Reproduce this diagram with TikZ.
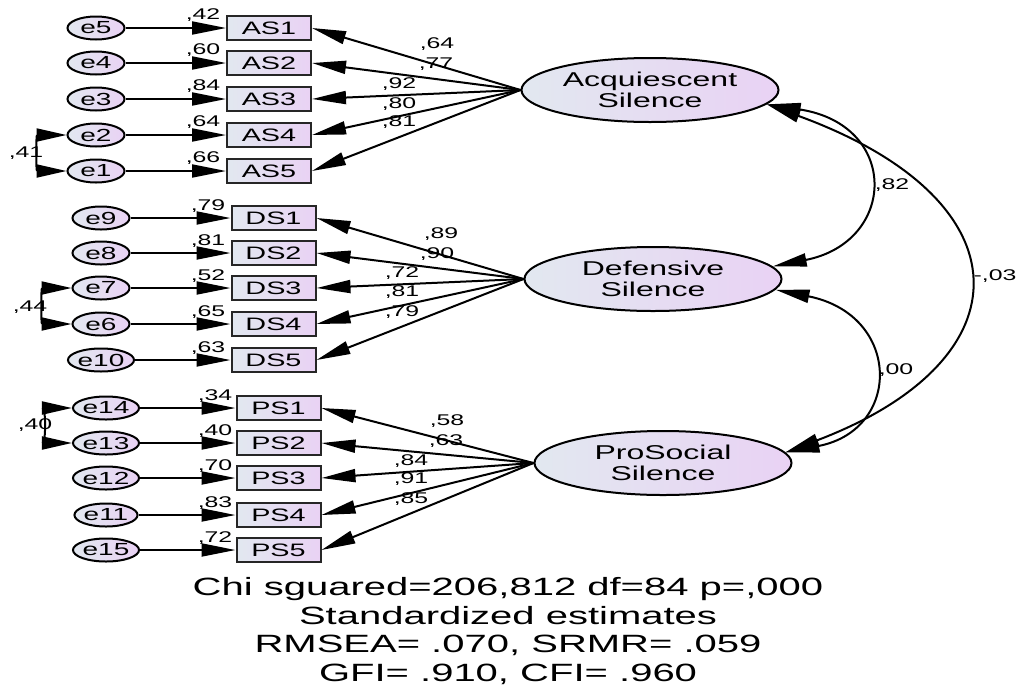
\documentclass[tikz,border=0pt]{standalone}
\usepackage{fontspec}
\setmainfont[FakeStretch=1.6]{Liberation Sans}
\usetikzlibrary{arrows.meta,shapes.geometric}
\definecolor{fillL}{RGB}{226,232,240}
\definecolor{fillR}{RGB}{233,210,244}
\begin{document}
\begin{tikzpicture}[x=1pt,y=-1pt,
  >={Triangle[length=34pt,width=13pt]},
  errnode/.style={ellipse,draw=black,line width=2pt,left color=fillL,right color=fillR,minimum width=57pt,minimum height=23pt,inner sep=0pt,font=\fontsize{17.5}{17.5}\selectfont},
  obsnode/.style={rectangle,draw=black!85,line width=2pt,left color=fillL,right color=fillR,minimum width=84pt,minimum height=24pt,inner sep=0pt,font=\fontsize{18}{18}\selectfont},
  latnode/.style={ellipse,draw=black,line width=2pt,left color=fillL,right color=fillR,minimum width=257pt,minimum height=64pt,inner sep=0pt,align=center,font=\fontsize{20}{20.5}\selectfont},
  lbl/.style={font=\fontsize{15.5}{15.5}\selectfont,inner sep=0pt},
  regarr/.style={->,line width=2pt},
  covarr/.style={<->,line width=2pt},
  ecovarr/.style={{Triangle[length=30pt,width=13pt]}-{Triangle[length=30pt,width=13pt]},line width=2pt},
]
\useasboundingbox[fill=white] (0,0) rectangle (1016,691);

% latent variables
\node[latnode] (AS) at (650,90) {Acquiescent\\Silence};
\node[latnode] (DS) at (653,279) {Defensive\\Silence};
\node[latnode] (PS) at (663,463) {ProSocial\\Silence};

% Acquiescent block
\foreach \e/\b/\y/\r in {e5/AS1/28/{,42}, e4/AS2/63/{,60}, e3/AS3/99/{,84}, e2/AS4/135/{,64}, e1/AS5/171/{,66}}{
  \node[errnode] (\e) at (96,\y) {\e};
  \node[obsnode] (\b) at (269,\y) {\b};
  \draw[regarr] (\e) -- (\b);
  \node[lbl] (r\b) at (203,\y-12.5) {\r};
}
% Defensive block
\foreach \e/\b/\y/\r in {e9/DS1/218/{,79}, e8/DS2/253/{,81}, e7/DS3/288/{,52}, e6/DS4/324/{,65}, e10/DS5/360/{,63}}{
  \node[errnode] (\e) at (101,\y) {\e};
  \node[obsnode] (\b) at (273.5,\y) {\b};
  \draw[regarr] (\e) -- (\b);
  \node[lbl] (r\b) at (208,\y-12) {\r};
}
% ProSocial block
\foreach \e/\b/\y/\r in {e14/PS1/408/{,34}, e13/PS2/443/{,40}, e12/PS3/478/{,70}, e11/PS4/515/{,83}, e15/PS5/550/{,72}}{
  \node[errnode] (\e) at (106,\y) {\e};
  \node[obsnode] (\b) at (278.5,\y) {\b};
  \draw[regarr] (\e) -- (\b);
  \node[lbl] (r\b) at (215,\y-12) {\r};
}

% loadings
\foreach \b/\x/\y/\l in {AS1/437/44/{,64}, AS2/436/64/{,77}, AS3/399/84/{,92}, AS4/399/104/{,80}, AS5/399/122/{,81}}{
  \draw[regarr] (AS.west) -- (\b.east);
  \node[lbl] (l\b) at (\x,\y) {\l};
}
\foreach \b/\x/\y/\l in {DS1/441/234/{,89}, DS2/437/254/{,90}, DS3/402/273/{,72}, DS4/402/292/{,81}, DS5/402/312/{,79}}{
  \draw[regarr] (DS.west) -- (\b.east);
  \node[lbl] (l\b) at (\x,\y) {\l};
}
\foreach \b/\x/\y/\l in {PS1/447/421/{,58}, PS2/446/441/{,63}, PS3/411/461/{,84}, PS4/411/479/{,91}, PS5/411/499/{,85}}{
  \draw[regarr] (PS.west) -- (\b.east);
  \node[lbl] (l\b) at (\x,\y) {\l};
}

% error covariances
\draw[ecovarr] (e2.west) .. controls (36,135) and (36,171) .. (e1.west);
\node[lbl] (c41) at (26,153) {,41};
\draw[ecovarr] (e7.west) .. controls (41,288) and (41,324) .. (e6.west);
\node[lbl] (c44) at (30,307) {,44};
\draw[ecovarr] (e14.west) .. controls (46,408) and (46,443) .. (e13.west);
\node[lbl] (c40) at (35,425) {,40};

% latent covariances
\draw[covarr] (AS.-7) .. controls (900,125) and (897,242) .. (DS.6);
\node[lbl] (c82) at (892,185) {,82};
\draw[covarr] (DS.-5) .. controls (902,315) and (902,430) .. (PS.5);
\node[lbl] (c00) at (896,370) {,00};
\draw[covarr] (AS.-7) .. controls (1029,200) and (1029,360) .. (PS.5);
\node[lbl] (c03) at (995,276) {-,03};

% fit statistics
\node[align=center,inner sep=0pt,font=\fontsize{25}{28.5}\selectfont] (fit) at (508,631)
  {Chi sguared=206,812 df=84 p=,000\\Standardized estimates\\RMSEA= .070, SRMR= .059\\GFI= .910, CFI= .960};
\end{tikzpicture}
\end{document}
